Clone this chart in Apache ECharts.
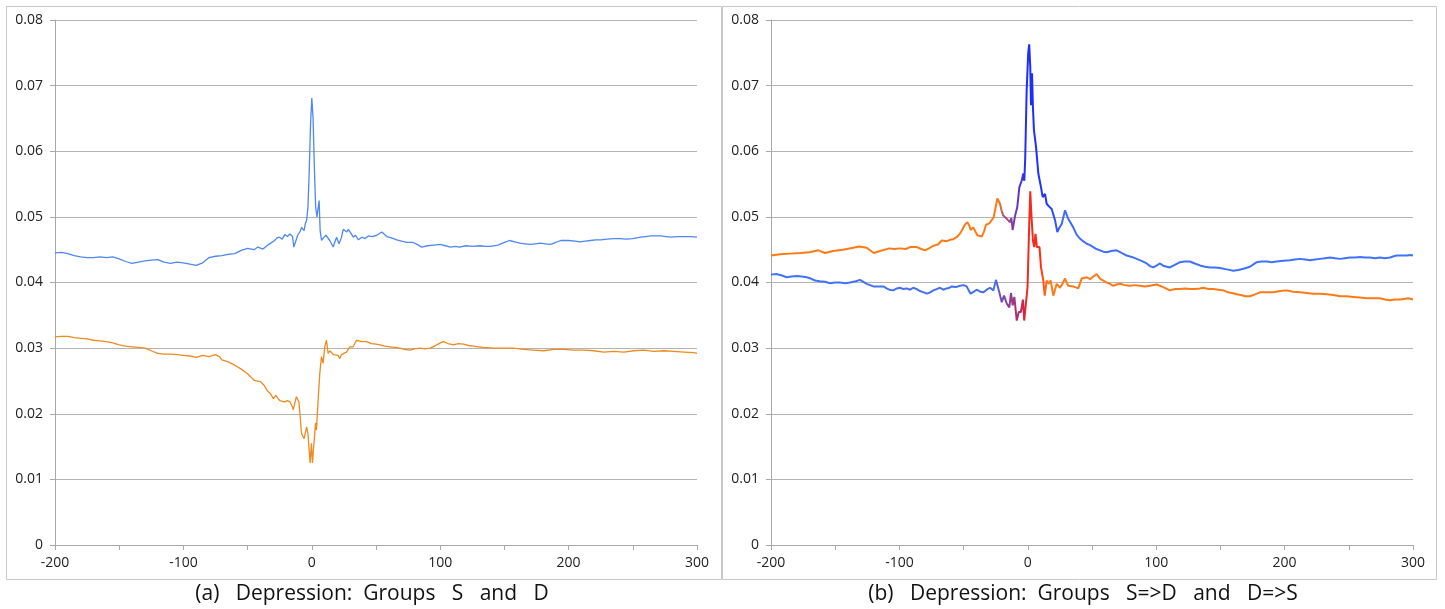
<!DOCTYPE html>
<html>
<head>
<meta charset="utf-8">
<script src="https://cdn.jsdelivr.net/npm/echarts@6/dist/echarts.min.js"></script>
<style>
  html, body { margin: 0; padding: 0; background: #fff; }
  #main { width: 1445px; height: 609px; }
</style>
</head>
<body>
<div id="main"></div>
<script>
// x range and y ticks
var xMin = -200, xMax = 300;
var yMin = 0, yMax = 0.08, yStep = 0.01;

// (a) Groups S and D
var leftS = [[-200,0.0445],[-195,0.0446],[-190,0.0444],[-185,0.0441],[-180,0.0439],[-175,0.0438],[-170,0.0438],[-165,0.0439],[-160,0.0438],[-155,0.0439],[-150,0.0436],[-145,0.0432],[-140,0.0429],[-135,0.0431],[-130,0.0433],[-125,0.0434],[-120,0.0435],[-115,0.0431],[-110,0.0429],[-105,0.0431],[-100,0.0430],[-95,0.0428],[-90,0.0426],[-85,0.0430],[-80,0.0438],[-75,0.0440],[-70,0.0441],[-65,0.0443],[-60,0.0444],[-55,0.0449],[-50,0.0452],[-45,0.0450],[-42,0.0454],[-38,0.0451],[-35,0.0456],[-32,0.0460],[-29,0.0464],[-27,0.0468],[-25,0.0469],[-23,0.0466],[-21,0.0473],[-19,0.0470],[-17,0.0474],[-15,0.0470],[-14,0.0454],[-12,0.0466],[-11,0.0472],[-9,0.0478],[-8,0.0484],[-6,0.0479],[-5,0.0490],[-4,0.0495],[-3,0.0515],[-2,0.0570],[-1,0.0640],[0,0.0681],[0.5,0.0680],[1,0.0650],[2,0.0575],[3,0.0515],[4,0.0500],[5,0.0502],[5.7,0.0525],[6.5,0.0479],[7.6,0.0464],[9,0.0468],[10.2,0.0465],[11,0.0472],[12.3,0.0475],[14,0.0464],[15,0.0466],[16.7,0.0454],[18,0.0462],[19.3,0.0469],[21.2,0.0459],[23,0.0468],[24.5,0.0481],[26,0.0479],[27.2,0.0477],[28.5,0.0481],[29.8,0.0479],[32.4,0.0469],[34,0.0472],[36.3,0.0465],[39,0.0469],[41.6,0.0467],[44,0.0471],[47,0.0470],[50.6,0.0472],[54.5,0.0477],[58.4,0.0470],[62,0.0468],[66.2,0.0465],[70,0.0463],[74,0.0461],[79,0.0461],[82,0.0458],[85.6,0.0454],[90,0.0456],[95,0.0457],[100,0.0458],[104,0.0456],[108,0.0454],[112,0.0455],[115,0.0454],[120,0.0456],[125,0.0455],[131,0.0456],[135,0.0455],[139,0.0455],[145,0.0457],[150,0.0461],[154,0.0464],[158,0.0462],[162,0.0460],[166,0.0459],[170,0.0458],[174,0.0459],[178,0.0460],[182,0.0459],[186,0.0458],[190,0.0461],[194,0.0464],[200,0.0464],[205,0.0463],[209,0.0462],[213,0.0463],[217,0.0464],[221,0.0465],[225,0.0465],[230,0.0466],[235,0.0467],[240,0.0467],[245,0.0466],[250,0.0467],[256,0.0469],[260,0.0470],[264,0.0471],[268,0.0471],[272,0.0471],[276,0.0470],[280,0.0469],[285,0.0470],[290,0.0470],[295,0.0470],[300,0.0469]];
var leftD = [[-200,0.0317],[-195,0.0318],[-190,0.0318],[-185,0.0316],[-180,0.0315],[-175,0.0314],[-170,0.0312],[-165,0.0311],[-160,0.0310],[-155,0.0308],[-150,0.0305],[-145,0.0303],[-140,0.0302],[-135,0.0301],[-130,0.0300],[-125,0.0296],[-120,0.0292],[-115,0.0291],[-110,0.0291],[-105,0.0290],[-100,0.0289],[-95,0.0288],[-90,0.0286],[-85,0.0289],[-80,0.0287],[-75,0.0290],[-72,0.0287],[-70,0.0282],[-65,0.0279],[-60,0.0274],[-55,0.0268],[-50,0.0261],[-47,0.0255],[-45,0.0251],[-40,0.0249],[-37,0.0243],[-35,0.0236],[-32,0.0230],[-30,0.0223],[-28,0.0228],[-25,0.0220],[-23,0.0219],[-21,0.0218],[-19,0.0220],[-17,0.0218],[-15,0.0210],[-14.5,0.0206],[-12,0.0226],[-10,0.0218],[-8,0.0170],[-6,0.0162],[-4,0.0180],[-3,0.0170],[-1.3,0.0125],[-0.3,0.0155],[0.5,0.0125],[1.8,0.0125],[2.9,0.0186],[3.6,0.0175],[4.9,0.0220],[6.2,0.0261],[7.5,0.0287],[8.8,0.0277],[10.1,0.0302],[11.4,0.0312],[12.7,0.0292],[14,0.0296],[15.3,0.0294],[17,0.0290],[18,0.0292],[20.5,0.0289],[21.8,0.0284],[23,0.0290],[24.4,0.0292],[27,0.0294],[29.6,0.0302],[32.2,0.0302],[34.8,0.0312],[38.7,0.0310],[42.6,0.0310],[46.5,0.0307],[50,0.0306],[53.2,0.0305],[57,0.0303],[61,0.0302],[65,0.0301],[68.8,0.0300],[72,0.0298],[76.6,0.0297],[80,0.0299],[84.4,0.0300],[88,0.0299],[92.2,0.0300],[97.4,0.0305],[100,0.0308],[102.6,0.0310],[106,0.0307],[110.4,0.0305],[114,0.0307],[118.2,0.0306],[122,0.0304],[126,0.0303],[130,0.0302],[133.8,0.0301],[141.6,0.0300],[149.4,0.0300],[157.2,0.0300],[165,0.0298],[172.8,0.0297],[180.6,0.0296],[188.4,0.0298],[196.2,0.0298],[204,0.0297],[211.8,0.0297],[219.6,0.0296],[227.4,0.0294],[235.2,0.0295],[243,0.0294],[250.8,0.0296],[258.6,0.0297],[266.4,0.0295],[274.2,0.0296],[282,0.0295],[289.8,0.0294],[297.6,0.0293],[300,0.0292]];

// (b) Groups S=>D and D=>S
var rightSD = [[-200,0.0441],[-193,0.0443],[-185,0.0444],[-177,0.0445],[-170,0.0446],[-163,0.0449],[-158,0.0445],[-151.5,0.0448],[-144,0.0450],[-136,0.0453],[-131,0.0455],[-125.5,0.0453],[-120,0.0445],[-115,0.0448],[-108,0.0452],[-104,0.0451],[-99.5,0.0452],[-95,0.0451],[-91.7,0.0454],[-86.5,0.0454],[-83,0.0451],[-80,0.0449],[-77,0.0452],[-73.6,0.0456],[-70,0.0458],[-67,0.0464],[-63,0.0463],[-60.6,0.0465],[-58,0.0466],[-55.4,0.0469],[-53,0.0474],[-51.5,0.0479],[-49,0.0488],[-47.1,0.0492],[-45.5,0.0486],[-44.5,0.0480],[-42.5,0.0484],[-41.1,0.0484],[-39.3,0.0472],[-35.9,0.0470],[-34,0.0478],[-32.6,0.0488],[-30,0.0490],[-28.1,0.0495],[-26.5,0.0500],[-25.5,0.0510],[-23.7,0.0528],[-21.7,0.0520],[-20.5,0.0510],[-19.1,0.0502],[-17.8,0.0500],[-16.4,0.0497],[-15,0.0495],[-13.9,0.0492],[-12.8,0.0498],[-11.8,0.0480],[-10,0.0501],[-8.2,0.0515],[-6.6,0.0545],[-4.8,0.0555],[-3.5,0.0566],[-2.7,0.0555],[-2,0.0591],[-0.9,0.0692],[0.3,0.0749],[1.1,0.0763],[1.9,0.0729],[2.5,0.0670],[3.3,0.0719],[4,0.0667],[4.8,0.0632],[6.4,0.0607],[8.2,0.0566],[10.3,0.0545],[11.6,0.0530],[13.4,0.0535],[14.7,0.0520],[16.5,0.0516],[18.6,0.0512],[21.2,0.0495],[23,0.0477],[24.5,0.0483],[26.4,0.0489],[29,0.0510],[31.5,0.0497],[35.4,0.0484],[38,0.0473],[40.6,0.0467],[43,0.0463],[45.9,0.0459],[48.5,0.0457],[51,0.0454],[53.5,0.0451],[56.2,0.0449],[58.8,0.0447],[61.4,0.0446],[65,0.0448],[69.2,0.0449],[73,0.0445],[77,0.0441],[81,0.0439],[84.8,0.0436],[88.6,0.0433],[92.6,0.0429],[95.2,0.0425],[97.7,0.0423],[100.5,0.0426],[103,0.0429],[106,0.0425],[110.7,0.0423],[114.5,0.0427],[118.5,0.0431],[122,0.0432],[126.3,0.0432],[130,0.0429],[134.1,0.0426],[138,0.0424],[141.9,0.0423],[145.8,0.0423],[149.7,0.0422],[155,0.0420],[160,0.0418],[164,0.0419],[167.9,0.0421],[173,0.0424],[176,0.0428],[178.3,0.0431],[182,0.0432],[186.1,0.0432],[190,0.0431],[193.8,0.0432],[199,0.0433],[204.2,0.0434],[208,0.0435],[212,0.0436],[216,0.0435],[219.8,0.0434],[223.7,0.0435],[227.6,0.0436],[231.5,0.0437],[235.5,0.0438],[239.3,0.0437],[243.2,0.0436],[247,0.0437],[251,0.0438],[255,0.0438],[258.8,0.0439],[262.6,0.0438],[266.5,0.0438],[270.4,0.0437],[274.3,0.0438],[278,0.0437],[282.1,0.0438],[285,0.0440],[287.3,0.0441],[291,0.0441],[295.1,0.0441],[298,0.0442],[300,0.0441]];
var rightDS = [[-200,0.0412],[-196,0.0413],[-192,0.0411],[-187.8,0.0408],[-184,0.0409],[-180,0.0410],[-176,0.0409],[-172.2,0.0408],[-169,0.0406],[-165.7,0.0403],[-162,0.0402],[-158,0.0401],[-154,0.0399],[-150,0.0400],[-146.3,0.0400],[-142,0.0399],[-138.5,0.0400],[-134,0.0402],[-130.7,0.0404],[-128,0.0401],[-125.5,0.0398],[-120.3,0.0394],[-116,0.0394],[-112.5,0.0394],[-110,0.0391],[-107.9,0.0389],[-104.8,0.0388],[-102,0.0391],[-99.5,0.0392],[-97,0.0390],[-94.3,0.0391],[-91.7,0.0389],[-89.2,0.0392],[-86.5,0.0390],[-84,0.0387],[-81,0.0385],[-78.7,0.0383],[-76,0.0385],[-73.6,0.0388],[-71,0.0390],[-68.4,0.0392],[-65.8,0.0389],[-63.2,0.0391],[-61,0.0392],[-59.3,0.0394],[-56,0.0393],[-52.8,0.0395],[-50,0.0396],[-47.6,0.0394],[-46,0.0388],[-44.5,0.0383],[-42,0.0386],[-39.8,0.0389],[-37,0.0386],[-34.7,0.0385],[-32,0.0389],[-29.4,0.0392],[-26.8,0.0388],[-24.8,0.0404],[-22.2,0.0385],[-20.3,0.0370],[-18.5,0.0380],[-16.4,0.0368],[-14.4,0.0362],[-13.1,0.0384],[-11.8,0.0365],[-10.5,0.0378],[-8.6,0.0342],[-7,0.0355],[-5.4,0.0355],[-3.8,0.0374],[-2.8,0.0342],[-1.4,0.0342],[-0.2,0.0393],[0.9,0.0474],[1.9,0.0539],[2.9,0.0500],[4,0.0464],[5,0.0454],[6,0.0474],[7.1,0.0454],[9.1,0.0454],[10.3,0.0423],[12.1,0.0403],[13.2,0.0380],[14.7,0.0403],[16.3,0.0398],[17.8,0.0403],[19.9,0.0380],[22.5,0.0398],[25.1,0.0392],[27,0.0398],[29,0.0406],[31.5,0.0395],[35.4,0.0394],[39.3,0.0391],[41.9,0.0406],[45.9,0.0408],[48.5,0.0405],[51,0.0409],[53.7,0.0413],[56.2,0.0406],[58.8,0.0403],[61.4,0.0400],[64,0.0398],[66.6,0.0395],[69.2,0.0397],[71.8,0.0398],[75.7,0.0396],[79.6,0.0395],[83.5,0.0396],[87.4,0.0395],[91.3,0.0394],[95.2,0.0395],[100.4,0.0397],[105.5,0.0393],[110.7,0.0388],[114.6,0.0390],[118.5,0.0390],[122.4,0.0391],[126.3,0.0390],[130.2,0.0390],[134.1,0.0391],[136.7,0.0392],[140.6,0.0390],[144.5,0.0390],[148.4,0.0389],[152.3,0.0388],[156,0.0385],[159,0.0384],[162.7,0.0382],[166,0.0381],[169.5,0.0379],[173,0.0379],[177,0.0382],[180.8,0.0385],[186,0.0385],[191.2,0.0385],[196.4,0.0387],[201.6,0.0388],[206.8,0.0386],[212,0.0385],[217.2,0.0384],[222.4,0.0383],[227.6,0.0383],[232.8,0.0382],[238,0.0381],[243.2,0.0379],[248.4,0.0379],[253.5,0.0378],[258.7,0.0377],[263.9,0.0376],[269.1,0.0376],[274.3,0.0376],[278.2,0.0374],[282.1,0.0373],[286,0.0374],[289.8,0.0374],[293,0.0375],[296.3,0.0376],[300,0.0374]];

var captions = ['(a)   Depression:  Groups   S   and   D', '(b)   Depression:  Groups   S=>D   and   D=>S'];

var chart = echarts.init(document.getElementById('main'), null, { renderer: 'canvas' });

// colour along x, stops given in data units
function xGradient(stops) {
  return new echarts.graphic.LinearGradient(0, 0, 1, 0, stops.map(function (s) {
    return { offset: (s[0] - xMin) / (xMax - xMin), color: s[1] };
  }));
}

var sdColor = xGradient([
  [-200, '#ff7a14'], [-22, '#ff7a14'], [-19, '#b05a70'], [-12, '#8a3f9c'],
  [-6, '#5a35c8'], [-2, '#2a30f0'], [0, '#1a2cff'], [15, '#2036ff'],
  [28, '#3f6eff'], [300, '#3f74ff']
]);
var dsColor = xGradient([
  [-200, '#3f74ff'], [-25, '#4470f0'], [-20, '#7a4ab0'], [-14, '#8a3f9c'],
  [-8, '#b03070'], [-3, '#d02848'], [0, '#f02a20'], [10, '#ff2a14'],
  [13, '#ff5a18'], [16, '#ff7a14'], [300, '#ff7a14']
]);

var gridColor = '#b4b4b4';
var labelFont = { color: '#222', fontSize: 14, fontFamily: 'Open Sans' };

function xAxisFor(i) {
  return {
    type: 'value', gridIndex: i, min: xMin, max: xMax, interval: 50,
    axisLine: { onZero: false, lineStyle: { color: '#a8a8a8', width: 1 } },
    axisTick: { inside: false, length: 5, lineStyle: { color: '#a8a8a8' } },
    axisLabel: Object.assign({
      margin: 11,
      formatter: function (v) { return v % 100 === 0 ? String(v) : ''; }
    }, labelFont),
    splitLine: { show: false }
  };
}
function yAxisFor(i) {
  return {
    type: 'value', gridIndex: i, min: yMin, max: yMax, interval: yStep,
    axisLine: { show: true, onZero: false, lineStyle: { color: '#a8a8a8', width: 1 } },
    axisTick: { show: true, inside: false, length: 5, lineStyle: { color: '#a8a8a8' } },
    axisLabel: Object.assign({
      margin: 12,
      formatter: function (v) { return v === 0 ? '0' : v.toFixed(2); }
    }, labelFont),
    splitLine: { show: true, lineStyle: { color: gridColor, width: 1.2 } }
  };
}

function lineSeries(data, idx, color, width) {
  return {
    type: 'line', xAxisIndex: idx, yAxisIndex: idx, data: data,
    showSymbol: false, symbol: 'none', smooth: false,
    lineStyle: { color: color, width: width },
    itemStyle: { color: typeof color === 'string' ? color : '#ff7a14' }
  };
}

var option = {
  backgroundColor: '#fff',
  animation: false,
  grid: [
    { left: 55, right: 748, top: 20, bottom: 64 },
    { left: 771, right: 32, top: 20, bottom: 64 }
  ],
  xAxis: [xAxisFor(0), xAxisFor(1)],
  yAxis: [yAxisFor(0), yAxisFor(1)],
  series: [
    lineSeries(leftS, 0, '#4d88f5', 1.3),
    lineSeries(leftD, 0, '#ef8a1e', 1.3),
    lineSeries(rightSD, 1, sdColor, 2),
    lineSeries(rightDS, 1, dsColor, 2)
  ],
  graphic: [
    { type: 'rect', shape: { x: 6.5, y: 6.5, width: 715, height: 573 },
      style: { fill: 'none', stroke: '#c8c8c8', lineWidth: 1 }, silent: true },
    { type: 'rect', shape: { x: 722.5, y: 6.5, width: 714, height: 573 },
      style: { fill: 'none', stroke: '#c8c8c8', lineWidth: 1 }, silent: true },
    { type: 'text', x: 372, y: 594,
      style: { text: captions[0], textAlign: 'center', textVerticalAlign: 'middle',
               fill: '#111', font: '21px "Open Sans"' } },
    { type: 'text', x: 1083, y: 594,
      style: { text: captions[1], textAlign: 'center', textVerticalAlign: 'middle',
               fill: '#111', font: '21px "Open Sans"' } }
  ]
};

chart.setOption(option);
</script>
</body>
</html>
